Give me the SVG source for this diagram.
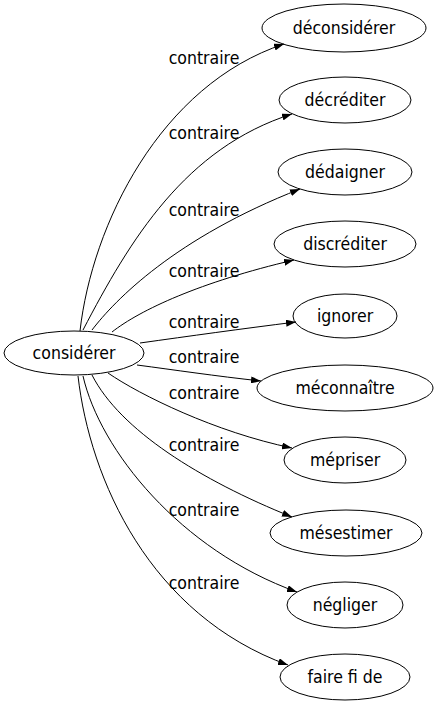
<svg xmlns="http://www.w3.org/2000/svg" width="438" height="707" viewBox="0 0 438 707">
<style>
text{font-family:"DejaVu Sans Condensed","DejaVu Sans",sans-serif;font-stretch:condensed;font-size:17.5px;fill:#000;text-anchor:middle}
ellipse{fill:none;stroke:#000;stroke-width:1}
.e path{fill:none;stroke:#000;stroke-width:1;marker-end:url(#ah)}
</style>
<defs>
<marker id="ah" viewBox="0 0 10 7" refX="10" refY="3.5" markerWidth="10" markerHeight="7" markerUnits="userSpaceOnUse" orient="auto">
<path d="M0,0 L10,3.5 L0,7 z" fill="#000"/>
</marker>
</defs>
<rect width="438" height="707" fill="#fff"/>
<g id="edges" class="e">
<path d="M80,331 C92,225 160,85 284,44"/>
<path d="M83,330 C130,240 185,148 292,114"/>
<path d="M92,330 C115,300 175,238 300,189"/>
<path d="M112,332 C140,310 200,282 294,260"/>
<path d="M140,343 C190,336 240,329 296,322"/>
<path d="M137,365 C175,370 215,376 261,381"/>
<path d="M108,373 C140,395 215,432 292,448"/>
<path d="M92,375 C120,430 200,480 292,517"/>
<path d="M83,376 C100,450 180,550 297,592"/>
<path d="M78,376 C90,480 150,615 288,665"/>
</g>
<g id="labels">
<text x="204" y="64">contraire</text>
<text x="204" y="139">contraire</text>
<text x="204" y="216">contraire</text>
<text x="204" y="277">contraire</text>
<text x="204" y="328">contraire</text>
<text x="204" y="363">contraire</text>
<text x="204" y="399">contraire</text>
<text x="204" y="451">contraire</text>
<text x="204" y="516">contraire</text>
<text x="204" y="589">contraire</text>
</g>
<g id="n0"><ellipse cx="74" cy="353" rx="70" ry="22"/><text x="74" y="359">considérer</text></g>
<g id="n1"><ellipse cx="344" cy="28" rx="82" ry="24"/><text x="344" y="34">déconsidérer</text></g>
<g id="n2"><ellipse cx="345" cy="100" rx="66" ry="23"/><text x="345" y="106">décréditer</text></g>
<g id="n3"><ellipse cx="345" cy="172" rx="67" ry="23"/><text x="345" y="178">dédaigner</text></g>
<g id="n4"><ellipse cx="345" cy="244" rx="71" ry="23"/><text x="345" y="250">discréditer</text></g>
<g id="n5"><ellipse cx="345" cy="316" rx="52" ry="22"/><text x="345" y="322">ignorer</text></g>
<g id="n6"><ellipse cx="345" cy="388" rx="88" ry="23"/><text x="345" y="394">méconnaître</text></g>
<g id="n7"><ellipse cx="345" cy="460" rx="61" ry="23"/><text x="345" y="466">mépriser</text></g>
<g id="n8"><ellipse cx="346" cy="533" rx="76" ry="23"/><text x="346" y="539">mésestimer</text></g>
<g id="n9"><ellipse cx="345" cy="605" rx="58" ry="23"/><text x="345" y="611">négliger</text></g>
<g id="n10"><ellipse cx="345" cy="677" rx="65" ry="23"/><text x="345" y="683">faire fi de</text></g>
</svg>
